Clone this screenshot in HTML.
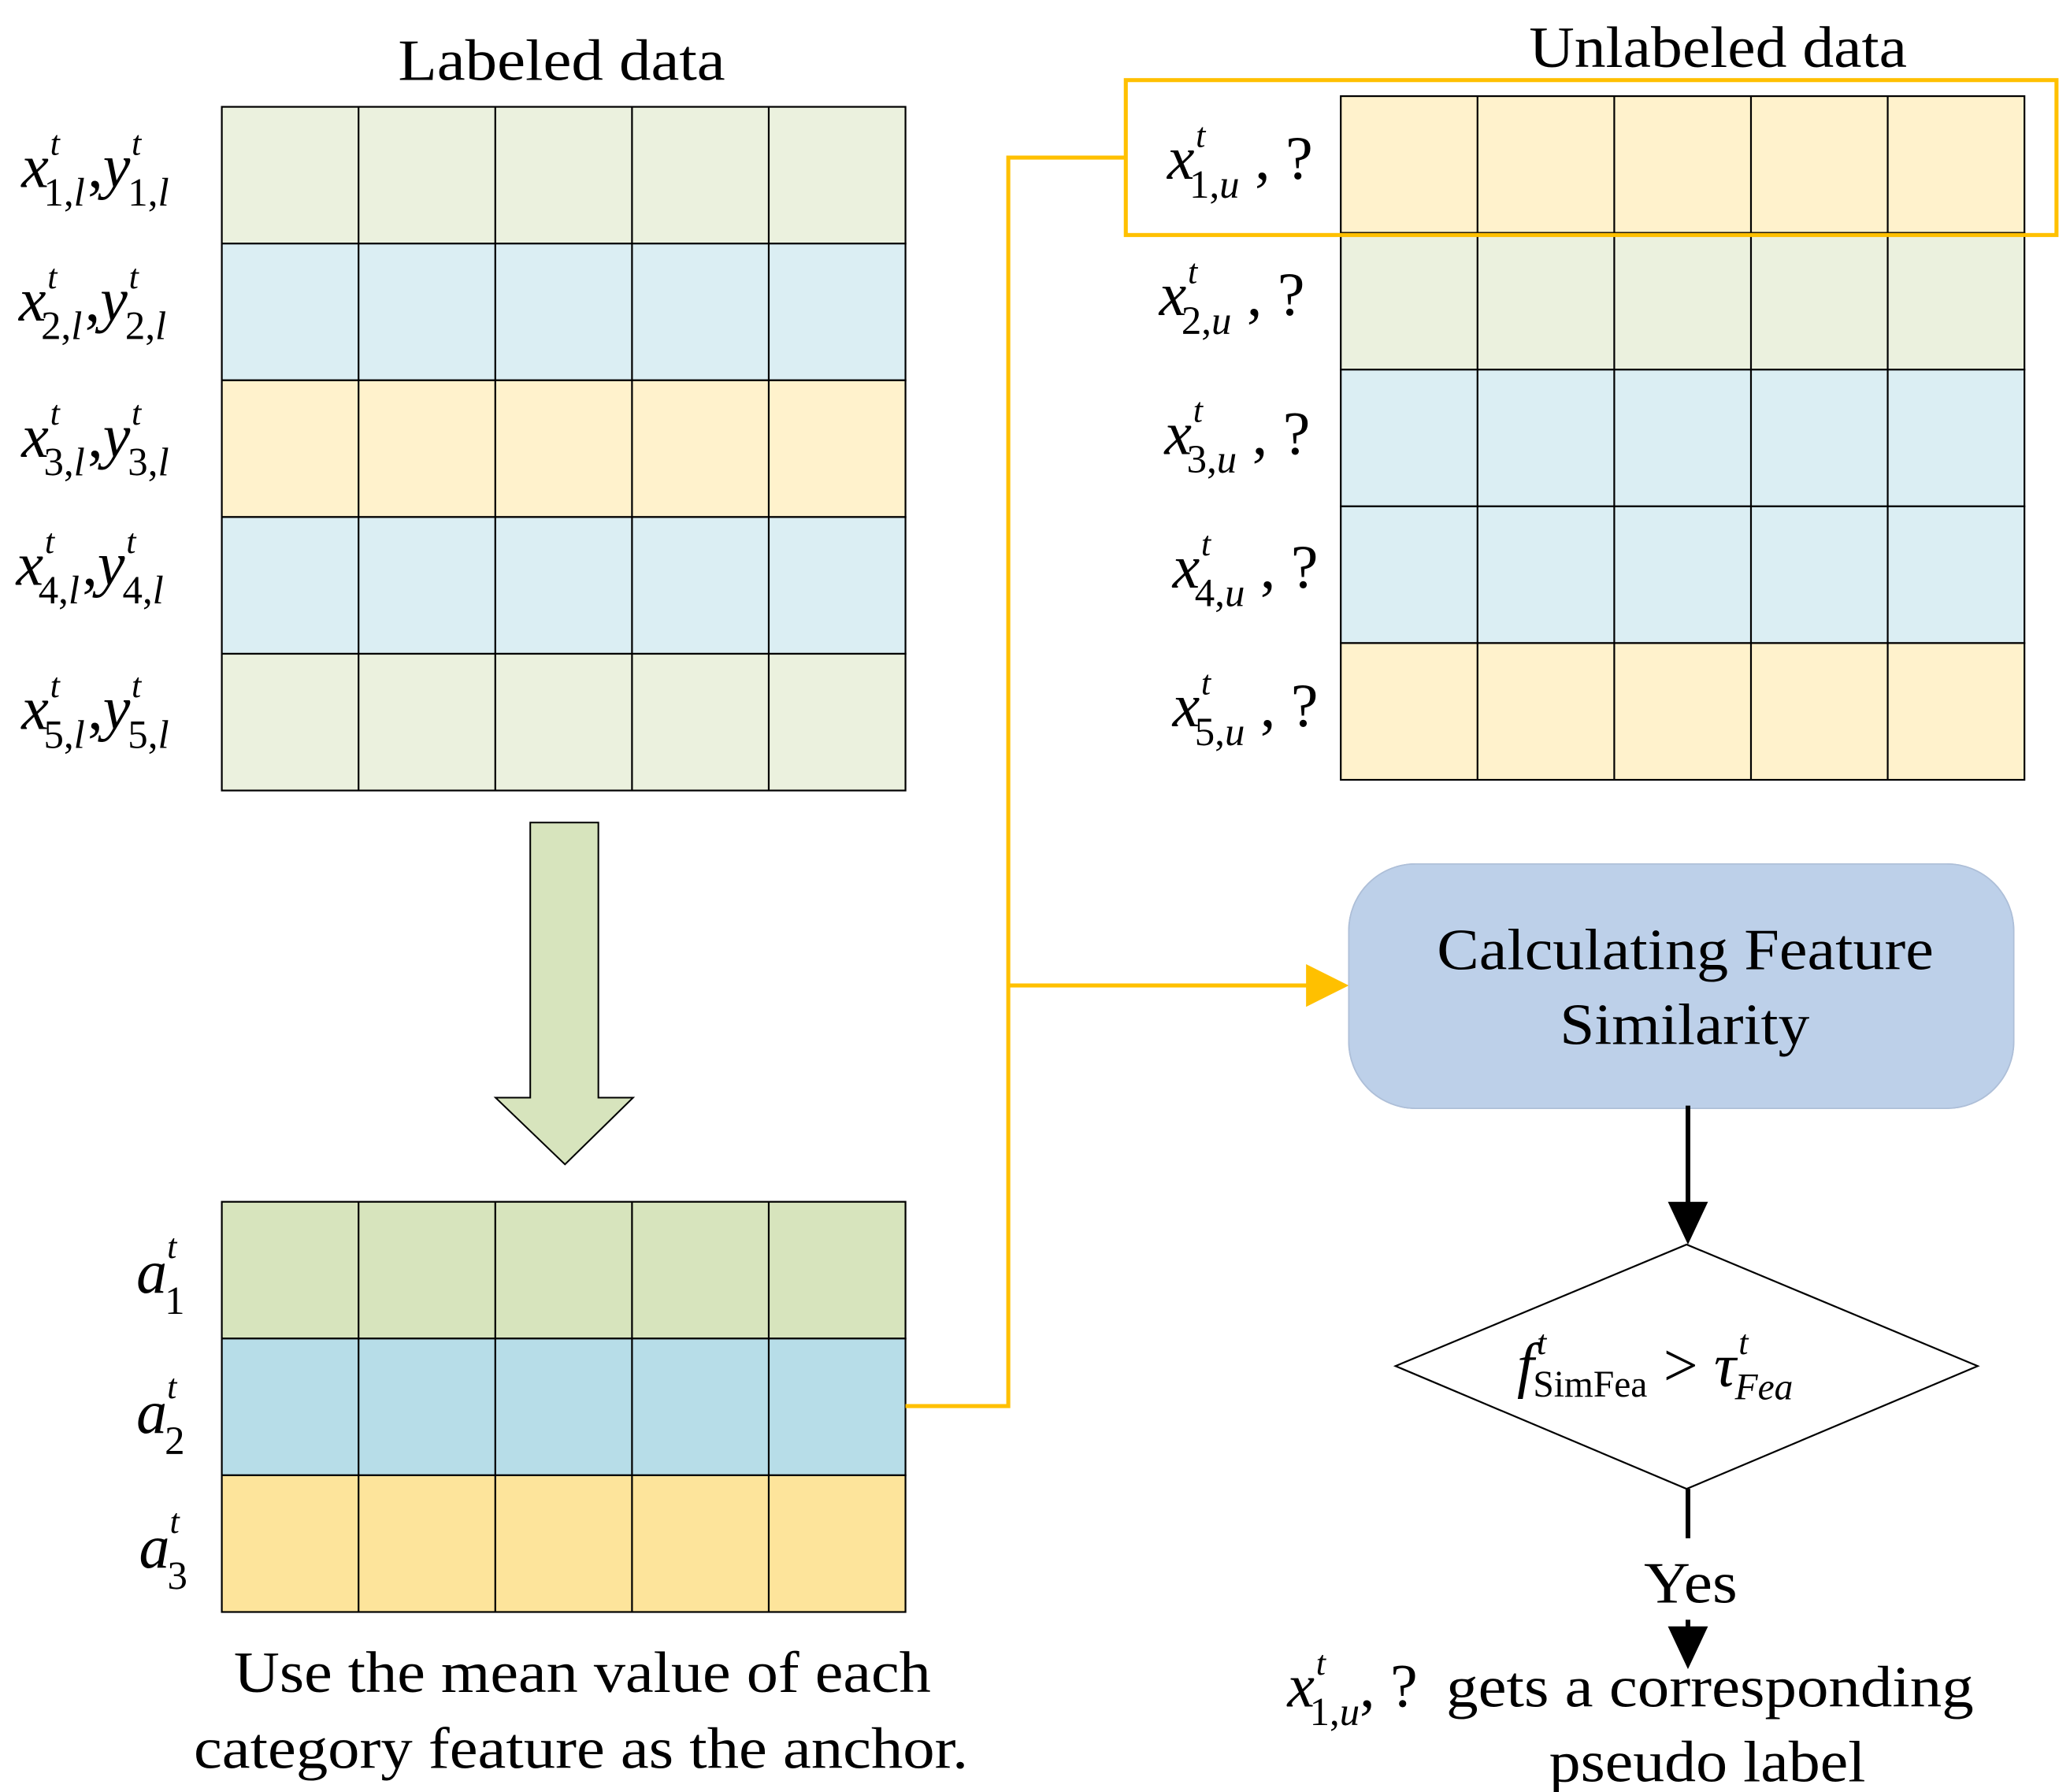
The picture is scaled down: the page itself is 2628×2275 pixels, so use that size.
<!DOCTYPE html>
<html><head><meta charset="utf-8"><style>
html,body{margin:0;padding:0;background:#fff}
svg{display:block}
text{font-family:"Liberation Serif",serif;fill:#000}
.m{font-style:italic}
</style></head><body>
<svg width="2628" height="2275" viewBox="0 0 1550 1342" xmlns="http://www.w3.org/2000/svg">
<defs>
<filter id="sh" x="-10%" y="-10%" width="130%" height="140%"><feGaussianBlur in="SourceAlpha" stdDeviation="6"/><feOffset dy="8"/><feComponentTransfer><feFuncA type="linear" slope="0.25"/></feComponentTransfer><feFlood flood-color="#8fa9cc"/><feComposite operator="in" in2="SourceAlpha"/><feMerge><feMergeNode/><feMergeNode in="SourceGraphic"/></feMerge></filter>
</defs>
<text x="298" y="60" font-size="44" textLength="245" lengthAdjust="spacingAndGlyphs">Labeled data</text>
<text x="1145" y="50" font-size="44" textLength="283" lengthAdjust="spacingAndGlyphs">Unlabeled data</text>
<g stroke="#000" stroke-width="1.3">
<rect x="166" y="80" width="512" height="102.4" fill="#EBF1DE"/>
<rect x="166" y="182.4" width="512" height="102.4" fill="#DBEEF3"/>
<rect x="166" y="284.8" width="512" height="102.4" fill="#FFF2CC"/>
<rect x="166" y="387.2" width="512" height="102.4" fill="#DBEEF3"/>
<rect x="166" y="489.6" width="512" height="102.4" fill="#EBF1DE"/>
<path d="M268.4 80V592M370.8 80V592M473.2 80V592M575.6 80V592" fill="none"/>
</g>
<g stroke="#000" stroke-width="1.3">
<rect x="1004" y="72" width="512" height="102.4" fill="#FFF2CC"/>
<rect x="1004" y="174.4" width="512" height="102.4" fill="#EBF1DE"/>
<rect x="1004" y="276.8" width="512" height="102.4" fill="#DBEEF3"/>
<rect x="1004" y="379.2" width="512" height="102.4" fill="#DBEEF3"/>
<rect x="1004" y="481.6" width="512" height="102.4" fill="#FFF2CC"/>
<path d="M1106.4 72V584M1208.8 72V584M1311.2 72V584M1413.6 72V584" fill="none"/>
</g>
<g stroke="#000" stroke-width="1.3">
<rect x="166" y="900" width="512" height="102.4" fill="#D7E4BD"/>
<rect x="166" y="1002.4" width="512" height="102.4" fill="#B7DDE8"/>
<rect x="166" y="1104.8" width="512" height="102.4" fill="#FDE49B"/>
<path d="M268.4 900V1207M370.8 900V1207M473.2 900V1207M575.6 900V1207" fill="none"/>
</g>
<path d="M397 616H448V822H474L423 872L371 822H397Z" fill="#D7E4BD" stroke="#000" stroke-width="1.2"/>
<g font-size="46">
<text x="16" y="140"><tspan class="m">x</tspan><tspan font-size="26" dx="1" dy="-24" class="m">t</tspan><tspan font-size="30" dx="-12" dy="38">1,</tspan><tspan font-size="30" class="m">l</tspan><tspan dx="2" dy="-14">,</tspan><tspan class="m">y</tspan><tspan font-size="26" dx="1" dy="-24" class="m">t</tspan><tspan font-size="30" dx="-10" dy="38">1,</tspan><tspan font-size="30" class="m">l</tspan></text>
<text x="14" y="240"><tspan class="m">x</tspan><tspan font-size="26" dx="1" dy="-24" class="m">t</tspan><tspan font-size="30" dx="-12" dy="38">2,</tspan><tspan font-size="30" class="m">l</tspan><tspan dx="2" dy="-14">,</tspan><tspan class="m">y</tspan><tspan font-size="26" dx="1" dy="-24" class="m">t</tspan><tspan font-size="30" dx="-10" dy="38">2,</tspan><tspan font-size="30" class="m">l</tspan></text>
<text x="16" y="342"><tspan class="m">x</tspan><tspan font-size="26" dx="1" dy="-24" class="m">t</tspan><tspan font-size="30" dx="-12" dy="38">3,</tspan><tspan font-size="30" class="m">l</tspan><tspan dx="2" dy="-14">,</tspan><tspan class="m">y</tspan><tspan font-size="26" dx="1" dy="-24" class="m">t</tspan><tspan font-size="30" dx="-10" dy="38">3,</tspan><tspan font-size="30" class="m">l</tspan></text>
<text x="12" y="438"><tspan class="m">x</tspan><tspan font-size="26" dx="1" dy="-24" class="m">t</tspan><tspan font-size="30" dx="-12" dy="38">4,</tspan><tspan font-size="30" class="m">l</tspan><tspan dx="2" dy="-14">,</tspan><tspan class="m">y</tspan><tspan font-size="26" dx="1" dy="-24" class="m">t</tspan><tspan font-size="30" dx="-10" dy="38">4,</tspan><tspan font-size="30" class="m">l</tspan></text>
<text x="16" y="546"><tspan class="m">x</tspan><tspan font-size="26" dx="1" dy="-24" class="m">t</tspan><tspan font-size="30" dx="-12" dy="38">5,</tspan><tspan font-size="30" class="m">l</tspan><tspan dx="2" dy="-14">,</tspan><tspan class="m">y</tspan><tspan font-size="26" dx="1" dy="-24" class="m">t</tspan><tspan font-size="30" dx="-10" dy="38">5,</tspan><tspan font-size="30" class="m">l</tspan></text>
</g>
<g font-size="46">
<text x="874" y="134"><tspan class="m">x</tspan><tspan font-size="26" dx="1" dy="-24" class="m">t</tspan><tspan font-size="30" dx="-12" dy="38">1,</tspan><tspan font-size="30" class="m">u</tspan><tspan dy="-14"> , ?</tspan></text>
<text x="868" y="236"><tspan class="m">x</tspan><tspan font-size="26" dx="1" dy="-24" class="m">t</tspan><tspan font-size="30" dx="-12" dy="38">2,</tspan><tspan font-size="30" class="m">u</tspan><tspan dy="-14"> , ?</tspan></text>
<text x="872" y="340"><tspan class="m">x</tspan><tspan font-size="26" dx="1" dy="-24" class="m">t</tspan><tspan font-size="30" dx="-12" dy="38">3,</tspan><tspan font-size="30" class="m">u</tspan><tspan dy="-14"> , ?</tspan></text>
<text x="878" y="440"><tspan class="m">x</tspan><tspan font-size="26" dx="1" dy="-24" class="m">t</tspan><tspan font-size="30" dx="-12" dy="38">4,</tspan><tspan font-size="30" class="m">u</tspan><tspan dy="-14"> , ?</tspan></text>
<text x="878" y="544"><tspan class="m">x</tspan><tspan font-size="26" dx="1" dy="-24" class="m">t</tspan><tspan font-size="30" dx="-12" dy="38">5,</tspan><tspan font-size="30" class="m">u</tspan><tspan dy="-14"> , ?</tspan></text>
</g>
<g font-size="46">
<text x="102" y="968"><tspan class="m">a</tspan><tspan font-size="26" dx="0" dy="-26" class="m">t</tspan><tspan font-size="30" dx="-9" dy="42">1</tspan></text>
<text x="102" y="1073"><tspan class="m">a</tspan><tspan font-size="26" dx="0" dy="-26" class="m">t</tspan><tspan font-size="30" dx="-9" dy="42">2</tspan></text>
<text x="104" y="1174"><tspan class="m">a</tspan><tspan font-size="26" dx="0" dy="-26" class="m">t</tspan><tspan font-size="30" dx="-9" dy="42">3</tspan></text>
</g>
<g stroke="#FFC000" stroke-width="3" fill="none">
<path d="M678 1053H755V118H843"/>
<path d="M755 738H982"/>
<rect x="843" y="60" width="697" height="116"/>
</g>
<path d="M978 722L1010 738L978 754Z" fill="#FFC000"/>
<rect x="1010" y="647" width="498" height="183" rx="50" fill="#BDD0E9" stroke="#aebfd8" stroke-width="1" filter="url(#sh)"/>
<text x="1076" y="726" font-size="44" textLength="372" lengthAdjust="spacingAndGlyphs">Calculating Feature</text>
<text x="1168" y="782" font-size="44" textLength="187" lengthAdjust="spacingAndGlyphs">Similarity</text>
<path d="M1264 828V905" stroke="#000" stroke-width="3.5"/>
<path d="M1249 900H1279L1264 932Z" fill="#000"/>
<path d="M1045 1023L1263 932L1481 1023L1263 1115Z" fill="#fff" stroke="#000" stroke-width="1.3"/>
<text x="1136" y="1038" font-size="46"><tspan class="m">f</tspan><tspan font-size="26" dx="2" dy="-24" class="m">t</tspan><tspan font-size="28" dx="-10" dy="32">SimFea</tspan><tspan dx="12" dy="-8">&gt;</tspan><tspan class="m" dx="12">τ</tspan><tspan font-size="26" dx="2" dy="-24" class="m">t</tspan><tspan font-size="28" dx="-10" dy="34" class="m">Fea</tspan></text>
<path d="M1264 1115V1152" stroke="#000" stroke-width="3.5"/>
<text x="1231" y="1200" font-size="44" textLength="70" lengthAdjust="spacingAndGlyphs">Yes</text>
<path d="M1264 1213V1225" stroke="#000" stroke-width="3.5"/>
<path d="M1249 1218H1279L1264 1250Z" fill="#000"/>
<text x="964" y="1278" font-size="46"><tspan class="m">x</tspan><tspan font-size="26" dx="1" dy="-24" class="m">t</tspan><tspan font-size="30" dx="-12" dy="38">1,</tspan><tspan font-size="30" class="m">u</tspan><tspan dy="-14">, ?</tspan></text>
<text x="1083" y="1278" font-size="44" textLength="395" lengthAdjust="spacingAndGlyphs">gets a corresponding</text>
<text x="1160" y="1334" font-size="44" textLength="237" lengthAdjust="spacingAndGlyphs">pseudo label</text>
<text x="175" y="1267" font-size="44" textLength="522" lengthAdjust="spacingAndGlyphs">Use the mean value of each</text>
<text x="145" y="1324" font-size="44" textLength="580" lengthAdjust="spacingAndGlyphs">category feature as the anchor.</text>
</svg>
</body></html>
